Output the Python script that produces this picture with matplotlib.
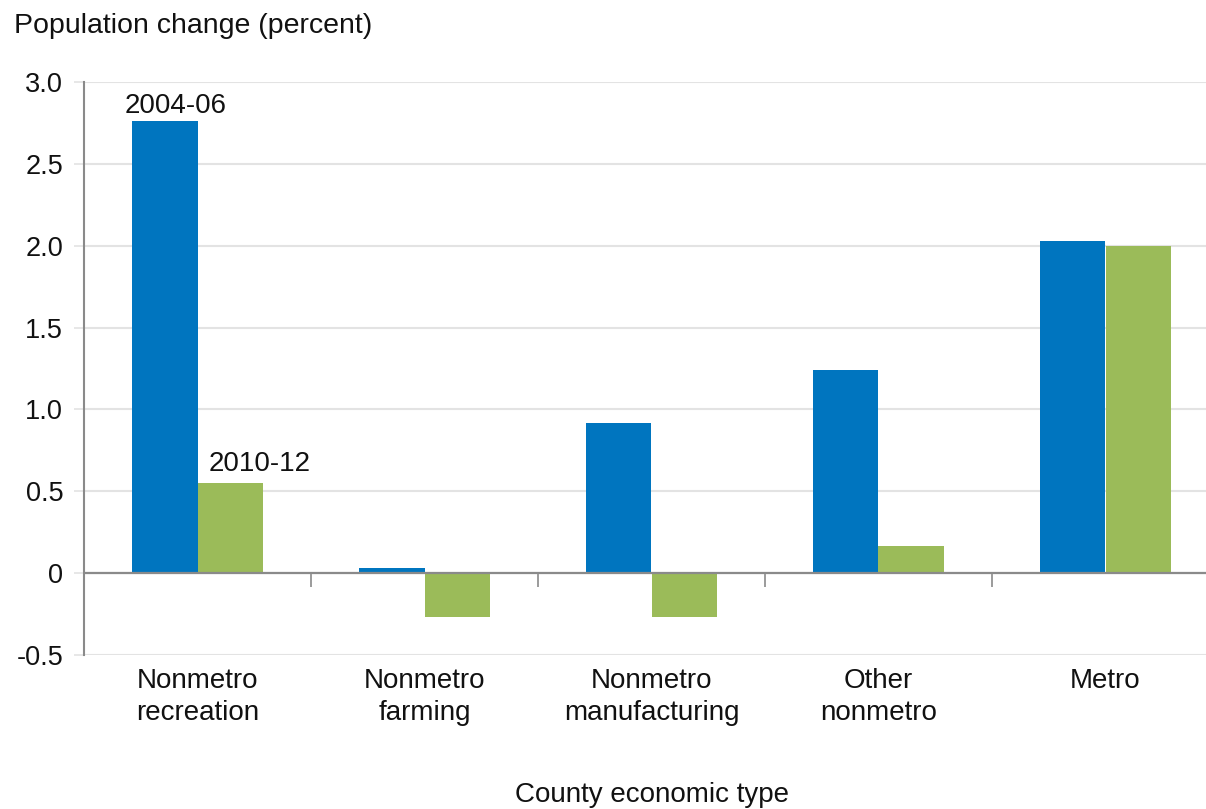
import numpy as np
import matplotlib
matplotlib.use("Agg")
import matplotlib.pyplot as plt

plt.rcParams['font.family'] = ['Liberation Sans', 'DejaVu Sans']

# Data
categories = ["Nonmetro\nrecreation", "Nonmetro\nfarming", "Nonmetro\nmanufacturing",
              "Other\nnonmetro", "Metro"]
change_2004_06 = [2.76, 0.03, 0.92, 1.24, 2.03]
change_2010_12 = [0.55, -0.27, -0.265, 0.165, 2.0]
yticks = [-0.5, 0, 0.5, 1.0, 1.5, 2.0, 2.5, 3.0]
ytick_labels = ["-0.5", "0", "0.5", "1.0", "1.5", "2.0", "2.5", "3.0"]

blue = "#0075BF"
green = "#9BBB59"
grid_gray = "#e3e3e3"
axis_gray = "#8a8a8a"
txt = "#111111"
fs = 20

fig = plt.figure(figsize=(12.06, 8.09), dpi=100)
ax = fig.add_axes([84 / 1206, 1 - 655 / 809, 1135 / 1206, 573 / 809])

x = np.arange(len(categories))
w = 0.287
ax.bar(x - w / 2, change_2004_06, width=w, color=blue, zorder=3)
ax.bar(x + w / 2, change_2010_12, width=w, color=green, zorder=3)

ax.set_xlim(-0.5, len(categories) - 0.5)
ax.set_ylim(-0.5, 3.0)

# y axis
ax.set_yticks(yticks)
ax.set_yticklabels(ytick_labels)
ax.grid(axis='y', color=grid_gray, linewidth=1.5, zorder=0)
ax.tick_params(axis='y', length=7, width=1.2, color=grid_gray, pad=8,
               labelsize=19.5, labelcolor=txt)

# x labels at the bottom, no spine
ax.set_xticks(x)
ax.set_xticklabels(categories, linespacing=1.32)
ax.tick_params(axis='x', length=0, pad=9, labelsize=fs, labelcolor=txt)

for s in ['top', 'right', 'bottom']:
    ax.spines[s].set_visible(False)
ax.spines['left'].set_color(axis_gray)
ax.spines['left'].set_linewidth(1.5)

# zero line with category separators
ax.axhline(0, color=axis_gray, linewidth=1.6, zorder=4)
zero_pos = (0 - ax.get_ylim()[0]) / (ax.get_ylim()[1] - ax.get_ylim()[0])
sec = ax.secondary_xaxis(zero_pos)
sec.set_xticks(np.arange(len(categories) - 1) + 0.5)
sec.set_xticklabels([])
sec.tick_params(axis='x', which='both', bottom=True, top=False, direction='out',
                length=10, width=1.2, color=axis_gray)
for s in sec.spines.values():
    s.set_visible(False)

# series labels
ax.annotate("2004-06", xy=(x[0] - w / 2, change_2004_06[0]), xytext=(8, 11),
            textcoords='offset points', ha='center', va='center', fontsize=fs,
            color=txt)
ax.annotate("2010-12", xy=(x[0] + w / 2, change_2010_12[0]), xytext=(21, 14),
            textcoords='offset points', ha='center', va='center', fontsize=fs,
            color=txt)

fig.text(14 / 1206, 1 - 26 / 809, "Population change (percent)", fontsize=20.5,
         ha='left', va='center', color=txt)
fig.text(652 / 1206, 1 - 795 / 809, "County economic type", fontsize=fs,
         ha='center', va='center', color=txt)

fig.savefig("out.png", dpi=100)
